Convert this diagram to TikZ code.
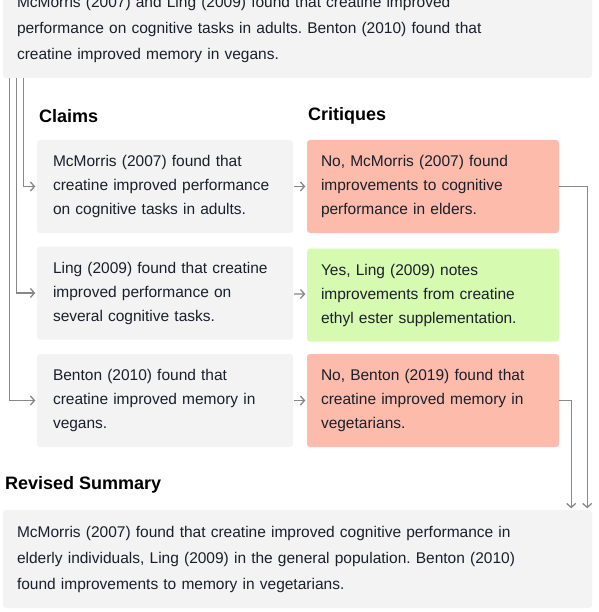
\documentclass[tikz,border=0pt]{standalone}
\usepackage{fontspec}
\setmainfont{Liberation Sans}
\frenchspacing
\usetikzlibrary{arrows.meta}
\definecolor{boxgray}{HTML}{F3F3F4}
\definecolor{critred}{HTML}{FDBCAB}
\definecolor{critgreen}{HTML}{D7FAB1}
\definecolor{ink}{HTML}{1A1F2B}
\definecolor{linegray}{HTML}{888888}
\tikzset{
  box/.style={fill=boxgray, rounded corners=3pt, align=left, text=ink,
    font=\fontsize{15.5}{24}\selectfont},
  claimbox/.style={box, text width=224pt, inner xsep=16pt, minimum height=93pt},
  critbox/.style={box, text width=224pt, inner xsep=14pt, minimum height=93pt},
  widebox/.style={box, text width=561pt, inner xsep=14pt, minimum height=98pt,
    font=\fontsize{15.5}{26}\selectfont},
  head/.style={anchor=west, inner sep=0pt, text=black,
    font=\fontsize{18}{20}\selectfont\bfseries},
  conn/.style={draw=linegray, line width=1.3pt,
    -{Straight Barb[length=4pt,width=9pt]}, shorten >=1.5pt}
}
\begin{document}
\begin{tikzpicture}[x=1pt, y=-1pt]
      \useasboundingbox (0,0) rectangle (598,612);
      \node[widebox] (source) at (297.5,29)
        {McMorris (2007) and Ling (2009) found that creatine improved\\
         performance on cognitive tasks in adults. Benton (2010) found that\\
         creatine improved memory in vegans.};
      \node[head] (claimhead) at (39,116) {Claims};
      \node[head] (crithead) at (308,116) {Critiques};
      \node[claimbox] (claim1) at (165,186.5)
        {McMorris (2007) found that\\ creatine improved performance\\ on cognitive tasks in adults.};
      \node[claimbox] (claim2) at (165,293)
        {Ling (2009) found that creatine\\ improved performance on\\ several cognitive tasks.};
      \node[claimbox] (claim3) at (165,400.5)
        {Benton (2010) found that\\ creatine improved memory in\\ vegans.};
      \node[critbox, fill=critred] (crit1) at (433,186.5)
        {No, McMorris (2007) found\\ improvements to cognitive\\ performance in elders.};
      \node[critbox, fill=critgreen] (crit2) at (433,295)
        {Yes, Ling (2009) notes\\ improvements from creatine\\ ethyl ester supplementation.};
      \node[critbox, fill=critred] (crit3) at (433,400.5)
        {No, Benton (2019) found that\\ creatine improved memory in\\ vegetarians.};
      \node[head] (revhead) at (5,485) {Revised Summary};
      \node[widebox] (revised) at (297.5,559)
        {McMorris (2007) found that creatine improved cognitive performance in\\
         elderly individuals, Ling (2009) in the general population. Benton (2010)\\
         found improvements to memory in vegetarians.};
      \begin{scope}[conn]
        \draw ([xshift=21pt]source.south west) |- (claim1);
        \draw ([xshift=14pt]source.south west) |- (claim2);
        \draw ([xshift=7pt]source.south west) |- (claim3);
        \draw[shorten <=1pt] (claim1) -- (crit1);
        \draw[shorten <=1pt] (claim2) -- (crit2);
        \draw[shorten <=1pt] (claim3) -- (crit3);
        \draw (crit1.east) -| ([xshift=-5pt]revised.north east);
        \draw (crit3.east) -| ([xshift=-21pt]revised.north east);
      \end{scope}
    \end{tikzpicture}
\end{document}
